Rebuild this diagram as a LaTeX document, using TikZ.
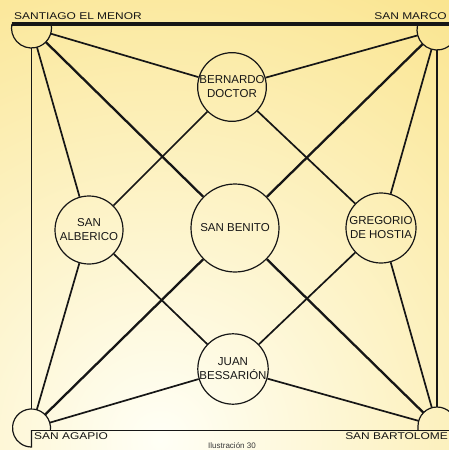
\documentclass[tikz,border=0pt]{standalone}
\usepackage{fontspec}
\setmainfont{Liberation Sans}
\newfontfamily\cornerfont[FakeStretch=1.22]{Liberation Sans}
\definecolor{ink}{HTML}{161616}
\definecolor{bgout}{HTML}{F7D44E}
\definecolor{bgin}{HTML}{FFFFF6}
\begin{document}
\begin{tikzpicture}[x=1pt,y=-1pt,
  saint/.style={circle,draw=ink,line width=1.2pt,inner sep=0pt,align=center,
    font=\fontsize{11.5}{14}\selectfont,text=ink},
  corner/.style={circle,inner sep=0pt},
  link/.style={draw=ink,line width=1.7pt},
  biglink/.style={draw=ink,line width=2.3pt},
  frame/.style={draw=ink,line width=1.2pt},
  lbl/.style={font=\cornerfont\fontsize{9.8}{12}\selectfont,inner sep=0pt,text=ink}]
\useasboundingbox (0,0) rectangle (449,450);
\begin{scope}
\clip (0,0) rectangle (449,450);
\shade[inner color=bgin,outer color=bgout] (160,440) circle (860);

% corner anchors
\node[corner,minimum size=40pt] (tl) at (31.5,28) {};
\node[corner,minimum size=40pt] (tr) at (437,30) {};
\node[corner,minimum size=38pt] (bl) at (31.5,428) {};
\node[corner,minimum size=38pt] (br) at (437,426) {};

% saints
\node[saint,minimum size=68pt] (bern) at (232,87) {BERNARDO\\DOCTOR};
\node[saint,minimum size=68pt] (albe) at (89,230) {SAN\\ALBERICO};
\node[saint,minimum size=88pt] (beni) at (235,228) {SAN BENITO};
\node[saint,minimum size=70pt] (greg) at (381,228) {GREGORIO\\DE HOSTIA};
\node[saint,minimum size=70pt] (juan) at (233,369) {JUAN\\BESSARIÓN};

% connectors
\path[link] (tl) -- (bern);
\path[link] (tl) -- (albe);
\path[link] (tr) -- (bern);
\path[link] (tr) -- (greg);
\path[link] (bl) -- (albe);
\path[link] (bl) -- (juan);
\path[link] (br) -- (greg);
\path[link] (br) -- (juan);
\path[link] (bern) -- (albe);
\path[link] (bern) -- (greg);
\path[link] (albe) -- (juan);
\path[link] (greg) -- (juan);
\path[biglink] (tl) -- (beni);
\path[biglink] (tr) -- (beni);
\path[biglink] (bl) -- (beni);
\path[biglink] (br) -- (beni);

% corner circles and frame
\draw[frame] ([shift={(-12:20)}]tl.center) arc[start angle=-12,end angle=192,radius=20];
\draw[frame] ([shift={(-12:20)}]tr.center) arc[start angle=-12,end angle=192,radius=20];
\draw[frame] ([shift={(6:19)}]bl.center) arc[start angle=6,end angle=-270,radius=19] -- ([shift={(0,2)}]bl.center);
\draw[frame] ([shift={(-19,4)}]br.center) -- ([shift={(-19,0)}]br.center) arc[start angle=180,end angle=360,radius=19];
\draw[draw=ink,line width=4.8pt] (11.5,24) -- (449,24);
\draw[draw=ink,line width=1.4pt] (tl.south) -- (tl.south |- bl.north);
\draw[draw=ink,line width=1.4pt] (tr.south) -- (br.north);
\draw[draw=ink,line width=0.9pt] ([shift={(0,2)}]bl.center) -- (449,430);

% labels
\node[lbl,anchor=base west] (lsant) at (14,19) {SANTIAGO EL MENOR};
\node[lbl,anchor=base east] (lmarc) at (447,19) {SAN MARCO};
\node[lbl,anchor=base west] (lagap) at (34,439) {SAN AGAPIO};
\node[lbl,anchor=base east] (lbart) at (448,439) {SAN BARTOLOME};
\node[font=\fontsize{8}{9}\selectfont,anchor=base,text=ink!85,inner sep=0pt] (capt) at (232,448.5) {Ilustración 30};
\end{scope}
\end{tikzpicture}
\end{document}
